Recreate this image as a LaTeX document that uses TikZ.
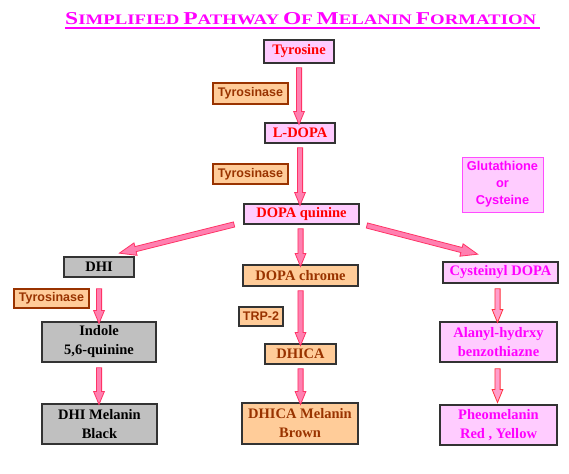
\documentclass[tikz,border=0pt]{standalone}
\usepackage{fontspec}
\usepackage{graphicx}
\setmainfont{Liberation Serif}
\newfontfamily\arialf{Liberation Sans}
\usetikzlibrary{shapes.arrows,calc}
\definecolor{molpink}{HTML}{FFCCFF}
\definecolor{molgray}{HTML}{C0C0C0}
\definecolor{molorange}{HTML}{FFCC99}
\definecolor{brownt}{HTML}{993300}
\definecolor{magt}{HTML}{FF00FF}
\definecolor{redt}{HTML}{FF0000}
\definecolor{boxline}{HTML}{333333}
\definecolor{arrline}{HTML}{FF3366}
\definecolor{arrfill}{HTML}{FF80B0}
\definecolor{arrlineB}{HTML}{FF3340}
\definecolor{arrfillB}{HTML}{FF9FCC}
\newcommand\molf{\bfseries\fontsize{14.5}{19}\selectfont}
\newcommand\enzf{\arialf\bfseries\fontsize{12.5}{14}\selectfont}
\newcommand\glf{\arialf\bfseries\fontsize{12.8}{17}\selectfont}
\newcommand\bgc[1]{{\fontsize{15}{15}\selectfont #1}}
\newcommand\smc[1]{{\fontsize{12}{12}\selectfont #1}}
\newcommand\blockarrow[3][]{%
  \path let \p1=(#2), \p2=(#3) in
    node[blockarr,#1,minimum height={veclen(\x2-\x1,\y2-\y1)},
         rotate={atan2(\y2-\y1,\x2-\x1)}] at ($(\p1)!0.5!(\p2)$) {};}
\tikzset{
  molbox/.style={draw=boxline,line width=1.3pt,inner sep=0pt,align=center,font=\molf},
  pinkbox/.style={molbox,fill=molpink,text=redt},
  graybox/.style={molbox,fill=molgray,text=black},
  orangebox/.style={molbox,fill=molorange,text=brownt},
  magbox/.style={molbox,fill=molpink,text=magt},
  enzbox/.style={draw=brownt,line width=1.1pt,fill=molorange,text=brownt,inner sep=0pt,font=\enzf},
  blockarr/.style={single arrow,draw=arrline,fill=arrfill,line width=0.8pt,
    inner xsep=0pt,inner ysep=2.2pt,minimum width=10pt,
    single arrow head extend=2.8pt,single arrow tip angle=45,outer sep=0pt},
  diagarr/.style={minimum width=12pt,single arrow head extend=3.8pt,single arrow tip angle=42},
  redarr/.style={draw=arrlineB,fill=arrfillB}
}
\begin{document}
\begin{tikzpicture}[x=1pt,y=-1pt]
\useasboundingbox (0,0) rectangle (569,473);
\fill[white] (0,0) rectangle (569,473);
% title
\node[anchor=base west,inner sep=0pt,text=magt] (title) at (65,25)
  {\resizebox{471pt}{12pt}{\bfseries\bgc{S}\smc{IMPLIFIED} \bgc{P}\smc{ATHWAY} \bgc{O}\smc{F} \bgc{M}\smc{ELANIN} \bgc{F}\smc{ORMATION}}};
\draw[magt,line width=1.4pt] (65,28) -- (540,28);
% main column
\node[pinkbox,minimum width=70pt,minimum height=23pt] (tyr) at (299,51.5) {Tyrosine};
\node[enzbox,minimum width=75pt,minimum height=21pt] (tz1) at (250.5,93.5) {Tyrosinase};
\node[pinkbox,minimum width=70pt,minimum height=20pt] (ld) at (300,133) {L-DOPA};
\node[enzbox,minimum width=75pt,minimum height=20pt] (tz2) at (250.5,174) {Tyrosinase};
\node[pinkbox,minimum width=115pt,minimum height=20pt] (dq) at (301.5,214) {DOPA quinine};
\node[draw=magt!70,line width=1pt,fill=molpink,text=magt,font=\glf,align=center,inner sep=0pt,
  minimum width=81pt,minimum height=55pt] (glu) at (502.5,184.5) {Glutathione\\or\\Cysteine};
% left column
\node[graybox,minimum width=70pt,minimum height=20pt] (dhi) at (99,267) {DHI};
\node[enzbox,minimum width=75pt,minimum height=19pt] (tz3) at (51.5,298.5) {Tyrosinase};
\node[graybox,minimum width=114pt,minimum height=40pt] (ind) at (99,342) {Indole\\5,6-quinine};
\node[graybox,minimum width=115pt,minimum height=40pt] (dbm) at (99.5,424) {DHI Melanin\\Black};
% middle column
\node[orangebox,minimum width=115pt,minimum height=21pt] (dc) at (300.5,275.5) {DOPA chrome};
\node[enzbox,draw=boxline,minimum width=44pt,minimum height=19pt] (trp) at (261,316.5) {TRP-2};
\node[orangebox,minimum width=71pt,minimum height=20pt] (dhica) at (300.5,354) {DHICA};
\node[orangebox,minimum width=116pt,minimum height=41pt] (dhm) at (300,423.5) {DHICA Melanin\\Brown};
% right column
\node[magbox,minimum width=115pt,minimum height=21pt] (cys) at (500.5,272.5) {Cysteinyl DOPA};
\node[magbox,minimum width=117pt,minimum height=40pt] (ala) at (498.5,342) {Alanyl-hydrxy\\benzothiazne};
\node[magbox,minimum width=117pt,minimum height=40pt] (pheo) at (498.5,425) {Pheomelanin\\Red , Yellow};
% arrows
\blockarrow{$(tyr.south)+(0,1)$}{$(tyr.south |- ld.north)+(0,-1)$}
\blockarrow{$(ld.south)+(0,1)$}{$(ld.south |- dq.north)+(0,-1)$}
\blockarrow{$(dq.south -| dc.north)+(0,1)$}{$(dc.north)+(0,-1)$}
\blockarrow{$(dc.south)+(0,1)$}{$(dhica.north)+(0,-1)$}
\blockarrow{$(dhica.south)+(0,1)$}{$(dhica.south |- dhm.north)+(0,-1)$}
\blockarrow{$(dhi.south)+(0,8)$}{$(ind.north)+(0,-1)$}
\blockarrow{$(ind.south)+(0,2)$}{$(ind.south |- dbm.north)+(0,-2)$}
\blockarrow[redarr]{$(cys.south)+(-3,2)$}{$(cys.south |- ala.north)+(-3,-2)$}
\blockarrow[redarr]{$(ala.south)+(-1,3)$}{$(ala.south |- pheo.north)+(-1,-5)$}
\blockarrow[diagarr]{$(dq.south west)+(-6,-1)$}{$(dhi.north east)+(-12,-4)$}
\blockarrow[diagarr]{$(dq.south east)+(4,0)$}{$(cys.north west)+(32,-8)$}
\end{tikzpicture}
\end{document}
